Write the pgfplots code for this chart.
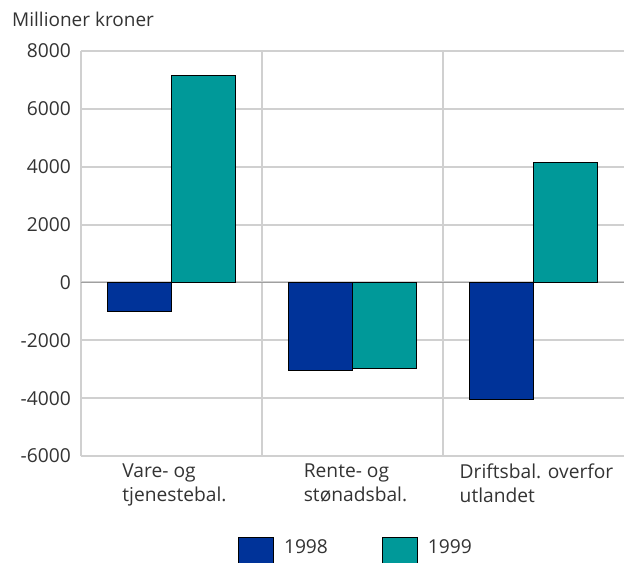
\documentclass[border=0pt]{standalone}
\usepackage{fontspec}
\setmainfont{Open Sans}
\usepackage{pgfplots}
\pgfplotsset{compat=1.18}
\definecolor{gridgray}{HTML}{D0D0D0}
\definecolor{zerogray}{HTML}{A0A0A0}
\definecolor{txt}{HTML}{333333}
\definecolor{cA}{HTML}{003399}
\definecolor{cB}{HTML}{009999}
\pgfplotsset{
  myleg/.style={legend image code/.code={\draw[##1, draw=black, line width=0.9bp] (0bp,-22bp) rectangle (35bp,10bp);}}
}
\begin{document}
\begin{tikzpicture}
\begin{axis}[
  at={(0,0)}, anchor=south west,
  scale only axis, width=543bp, height=405bp,
  ymin=-6000, ymax=8000, ytick={-6000,-4000,...,8000},
  xmin=-0.5, xmax=2.5,
  xtick={0,1,2},
  xticklabels={{Vare- og\\tjenestebal.},{Rente- og\\stønadsbal.},{Driftsbal. overfor\\utlandet}},
  minor xtick={0.5,1.5},
  xminorgrids=true, ymajorgrids=true,
  grid style={draw=gridgray, line width=2bp},
  minor grid style={draw=gridgray, line width=2bp},
  axis lines=left,
  axis line style={-, draw=gridgray, line width=2bp},
  major tick length=0pt, minor tick length=0pt,
  scaled ticks=false,
  /pgf/number format/1000 sep={},
  /pgf/number format/assume math mode=true,
  ticklabel style={font=\fontsize{19.2bp}{24bp}\selectfont, text=txt},
  yticklabel style={inner sep=0pt, xshift=-10bp},
  xticklabel style={align=left, inner sep=0pt, yshift=-8bp, xshift=3bp},
  extra y ticks={0}, extra y tick labels={},
  extra y tick style={grid style={draw=zerogray, line width=1.3bp}},
  ybar=0pt, bar width=0.3536,
  legend columns=2,
  legend style={at={(axis description cs:0.289,-0.2)}, anchor=north west,
    draw=none, fill=none, inner sep=0pt,
    font=\fontsize{19.2bp}{24bp}\selectfont, text=txt,
    /tikz/every even column/.append style={column sep=52bp},
    /tikz/every odd column/.append style={column sep=8bp}},
  legend cell align=left,
]
\addplot[fill=cA, draw=black, line width=0.9bp, myleg] coordinates {(0,-1010) (1,-3030) (2,-4040)};
\addplot[fill=cB, draw=black, line width=0.9bp, myleg] coordinates {(0,7160) (1,-2980) (2,4150)};
\legend{1998,1999}
\end{axis}
\node[anchor=base west, text=txt, font=\fontsize{19bp}{22bp}\selectfont, inner sep=0pt] at (-69bp,429bp) {Millioner kroner};
\pgfresetboundingbox
\useasboundingbox (-81bp,-107bp) rectangle (543bp,456bp);
\end{tikzpicture}
\end{document}
